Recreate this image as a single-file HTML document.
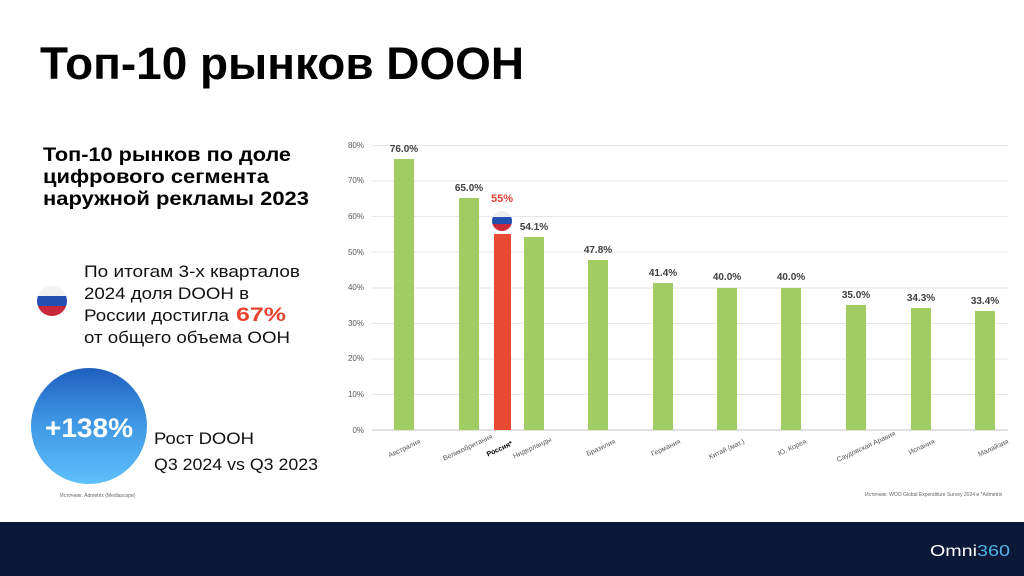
<!DOCTYPE html>
<html><head><meta charset="utf-8"><style>
html,body{margin:0;padding:0;background:#fff}
svg{display:block}
text{font-family:"Liberation Sans","DejaVu Sans",sans-serif}
</style></head><body>
<svg width="1024" height="576" viewBox="0 0 1024 576" xmlns="http://www.w3.org/2000/svg">
<defs>
<linearGradient id="cg" x1="0" y1="0" x2="0" y2="1"><stop offset="0" stop-color="#1f5fc0"/><stop offset="0.45" stop-color="#3d95e2"/><stop offset="1" stop-color="#5ec0fb"/></linearGradient>
<clipPath id="f1"><circle cx="52" cy="301" r="15"/></clipPath>
<clipPath id="f2"><circle cx="502" cy="221" r="10"/></clipPath>
</defs>
<rect width="1024" height="576" fill="#fff"/>
<text x="40" y="79" font-size="45" font-weight="bold" fill="#000" textLength="484" lengthAdjust="spacingAndGlyphs">Топ-10 рынков DOOH</text>
<g font-size="19" font-weight="bold" fill="#000">
<text x="43" y="161" textLength="248" lengthAdjust="spacingAndGlyphs">Топ-10 рынков по доле</text>
<text x="43" y="183" textLength="226" lengthAdjust="spacingAndGlyphs">цифрового сегмента</text>
<text x="43" y="205" textLength="266" lengthAdjust="spacingAndGlyphs">наружной рекламы 2023</text>
</g>
<g clip-path="url(#f1)"><rect x="37" y="286" width="30" height="10" fill="#f2f2f2"/><rect x="37" y="296" width="30" height="10" fill="#2350b0"/><rect x="37" y="306" width="30" height="10" fill="#c8283a"/></g>
<g font-size="17" fill="#111">
<text x="84" y="277" textLength="216" lengthAdjust="spacingAndGlyphs">По итогам 3-х кварталов</text>
<text x="84" y="299" textLength="165" lengthAdjust="spacingAndGlyphs">2024 доля DOOH в</text>
<text x="84" y="321" textLength="145" lengthAdjust="spacingAndGlyphs">России достигла</text>
<text x="236" y="321" font-size="19" font-weight="bold" fill="#e8432f" textLength="50" lengthAdjust="spacingAndGlyphs">67%</text>
<text x="84" y="343" textLength="206" lengthAdjust="spacingAndGlyphs">от общего объема ООН</text>
</g>
<circle cx="89" cy="426" r="58" fill="url(#cg)"/>
<text x="89" y="437" font-size="27" font-weight="bold" fill="#fff" text-anchor="middle" textLength="88" lengthAdjust="spacingAndGlyphs">+138%</text>
<text x="154" y="444" font-size="17" fill="#111" textLength="100" lengthAdjust="spacingAndGlyphs">Рост DOOH</text>
<text x="154" y="470" font-size="17" fill="#111" textLength="164" lengthAdjust="spacingAndGlyphs">Q3 2024 vs Q3 2023</text>
<text x="60" y="497" font-size="5" fill="#666">Источник: Admetrix (Mediascope)</text>
<!-- chart -->
<g stroke="#e6e6e6" stroke-width="1">
<line x1="372" x2="1008" y1="145.5" y2="145.5"/><line x1="372" x2="1008" y1="181" y2="181"/><line x1="372" x2="1008" y1="216.5" y2="216.5"/><line x1="372" x2="1008" y1="252" y2="252"/><line x1="372" x2="1008" y1="288" y2="288"/><line x1="372" x2="1008" y1="323.5" y2="323.5"/><line x1="372" x2="1008" y1="359" y2="359"/><line x1="372" x2="1008" y1="394.5" y2="394.5"/>
</g>
<line x1="372" x2="1008" y1="430" y2="430" stroke="#d9d9d9" stroke-width="1.5"/>
<g font-size="8" fill="#595959" text-anchor="end">
<text x="364" y="148">80%</text><text x="364" y="183">70%</text><text x="364" y="219">60%</text><text x="364" y="255">50%</text><text x="364" y="290">40%</text><text x="364" y="326">30%</text><text x="364" y="361">20%</text><text x="364" y="397">10%</text><text x="364" y="433">0%</text>
</g>
<g fill="#a1cc64">
<rect x="394" y="159" width="20" height="271"/>
<rect x="459" y="198" width="20" height="232"/>
<rect x="524" y="237" width="20" height="193"/>
<rect x="588" y="260" width="20" height="170"/>
<rect x="653" y="283" width="20" height="147"/>
<rect x="717" y="288" width="20" height="142"/>
<rect x="781" y="288" width="20" height="142"/>
<rect x="846" y="305" width="20" height="125"/>
<rect x="911" y="308" width="20" height="122"/>
<rect x="975" y="311" width="20" height="119"/>
</g>
<rect x="494" y="234" width="17" height="196" fill="#e74a33"/>
<g clip-path="url(#f2)"><rect x="492" y="211" width="20" height="6" fill="#eee"/><rect x="492" y="217" width="20" height="7" fill="#2350b0"/><rect x="492" y="224" width="20" height="8" fill="#c8283a"/></g>
<g font-size="10" font-weight="bold" fill="#404040" text-anchor="middle">
<text x="404" y="152">76.0%</text><text x="469" y="191">65.0%</text><text x="534" y="230">54.1%</text><text x="598" y="253">47.8%</text><text x="663" y="276">41.4%</text><text x="727" y="280">40.0%</text><text x="791" y="280">40.0%</text><text x="856" y="298">35.0%</text><text x="921" y="301">34.3%</text><text x="985" y="304">33.4%</text>
</g>
<text x="502" y="202" font-size="11" font-weight="bold" fill="#f0413a" text-anchor="middle">55%</text>
<g font-size="7" fill="#595959" text-anchor="end">
<text transform="translate(421,443) rotate(-25)">Австралия</text>
<text transform="translate(493,438) rotate(-25)">Великобритания</text>
<text transform="translate(513,445) rotate(-25)" fill="#000" font-weight="bold">Россия*</text>
<text transform="translate(552,441) rotate(-25)">Нидерланды</text>
<text transform="translate(616,443) rotate(-25)">Бразилия</text>
<text transform="translate(681,443) rotate(-25)">Германия</text>
<text transform="translate(745,443) rotate(-25)">Китай (мат.)</text>
<text transform="translate(807,443) rotate(-25)">Ю. Корея</text>
<text transform="translate(896,435) rotate(-25)">Саудовская Аравия</text>
<text transform="translate(935,443) rotate(-25)">Испания</text>
<text transform="translate(1009,443) rotate(-25)">Малайзия</text>
</g>
<text x="865" y="496" font-size="5" fill="#666">Источник: WOO Global Expenditure Survey 2024 и *Admetrix</text>
<rect x="0" y="522" width="1024" height="54" fill="#0c1838"/>
<text x="930" y="556" font-size="16" fill="#fff" textLength="47" lengthAdjust="spacingAndGlyphs">Omni</text>
<text x="977" y="556" font-size="16" fill="#4fb6e8" textLength="33" lengthAdjust="spacingAndGlyphs">360</text>
</svg>
</body></html>
